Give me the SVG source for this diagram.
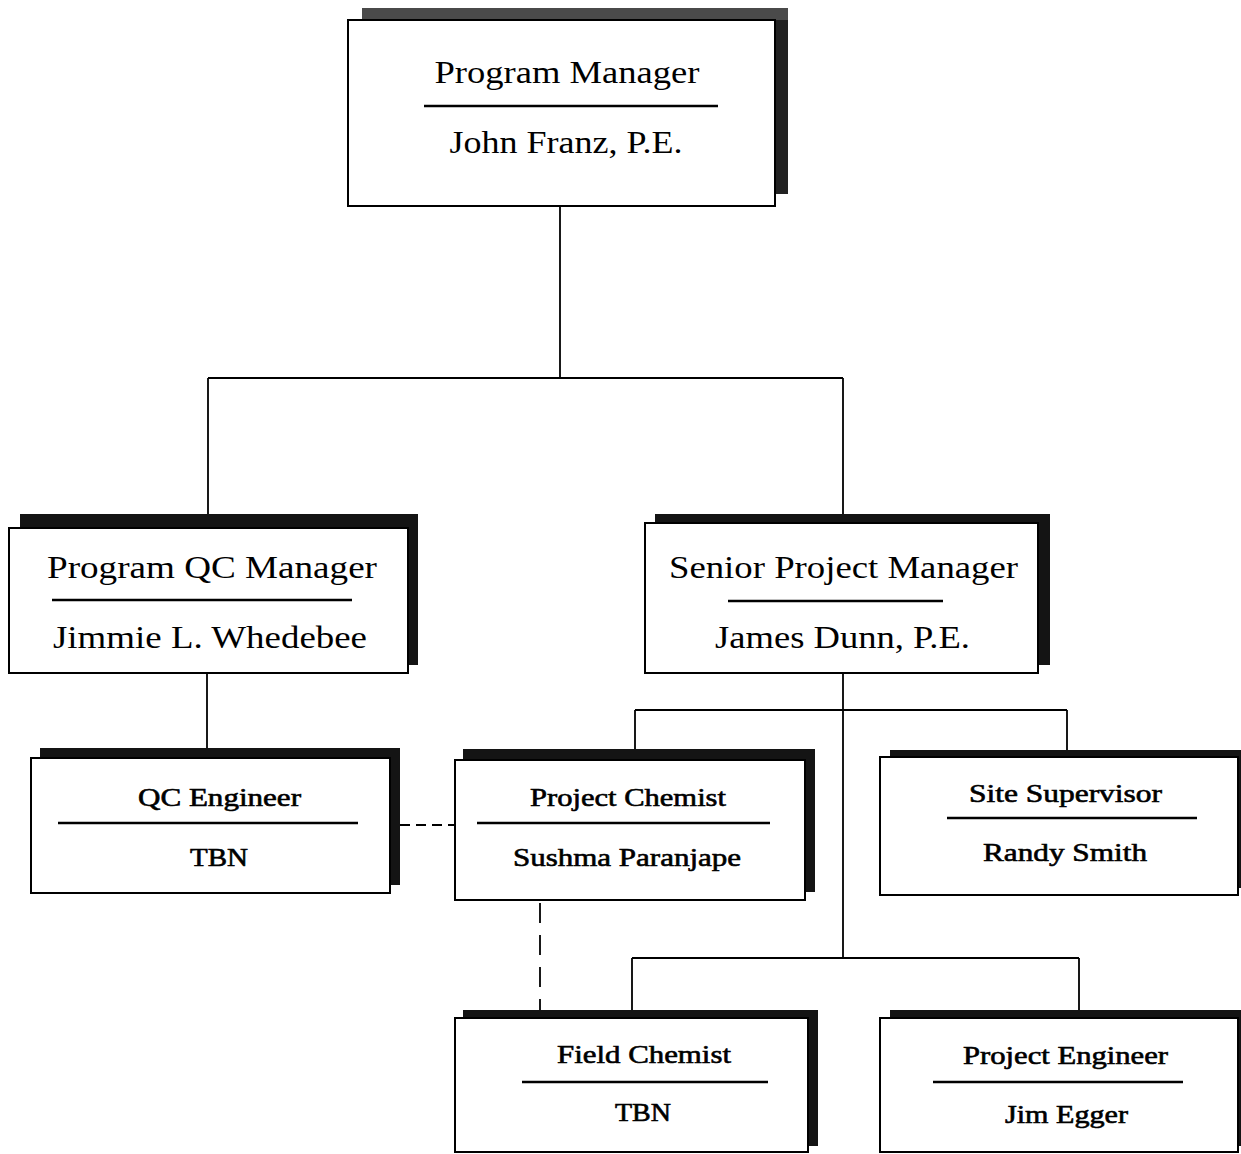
<svg xmlns="http://www.w3.org/2000/svg" width="1241" height="1154" viewBox="0 0 1241 1154">
<style>
.bg{fill:#fff}
.sh{fill:#141414}
.sh0{fill:#4a4a4a}
.sh0r{fill:#222}
.box{fill:#fff;stroke:#000;stroke-width:2}
.div{stroke:#000;stroke-width:2.5}
.con{fill:none;stroke:#000;stroke-width:1.8}
.dash{fill:none;stroke:#000;stroke-width:1.8}
text{font-family:"Liberation Serif","Times New Roman",serif;fill:#000;text-anchor:middle}
.big{font-size:31px}
.sm{font-size:25px;stroke:#000;stroke-width:0.6}
</style>
<rect class="bg" x="0" y="0" width="1241" height="1154"/>
<g id="connectors">
<path class="con" d="M560,206 V378 M208,378 H843 M208,378 V514 M843,378 V514"/>
<path class="con" d="M207,673 V749"/>
<path class="con" d="M843,673 V958 M635,710 H1067 M635,710 V749 M1067,710 V750"/>
<path class="con" d="M632,958 H1079 M632,958 V1010 M1079,958 V1010"/>
<path class="dash" d="M400,825 H455" stroke-dasharray="10 6"/>
<path class="dash" d="M540,903 V1010" stroke-dasharray="20 12"/>
</g>
<g id="program-manager">
<rect class="sh0" x="362" y="8" width="426" height="186"/>
<rect class="sh0r" x="775" y="20" width="13" height="174"/>
<rect class="box" x="348" y="20" width="427" height="186"/>
<line class="div" x1="424" y1="106" x2="718" y2="106"/>
<text class="big" x="567" y="83" textLength="265" lengthAdjust="spacingAndGlyphs">Program Manager</text>
<text class="big" x="566" y="153" textLength="233" lengthAdjust="spacingAndGlyphs">John Franz, P.E.</text>
</g>
<g id="program-qc-manager">
<rect class="sh" x="20" y="514" width="398" height="151"/>
<rect class="box" x="9" y="528" width="399" height="145"/>
<line class="div" x1="52" y1="600" x2="352" y2="600"/>
<text class="big" x="212" y="578" textLength="330" lengthAdjust="spacingAndGlyphs">Program QC Manager</text>
<text class="big" x="210" y="648" textLength="314" lengthAdjust="spacingAndGlyphs">Jimmie L. Whedebee</text>
</g>
<g id="senior-project-manager">
<rect class="sh" x="655" y="514" width="395" height="151"/>
<rect class="box" x="645" y="523" width="393" height="150"/>
<line class="div" x1="728" y1="601" x2="943" y2="601"/>
<text class="big" x="843.5" y="578" textLength="349" lengthAdjust="spacingAndGlyphs">Senior Project Manager</text>
<text class="big" x="842.5" y="648" textLength="255" lengthAdjust="spacingAndGlyphs">James Dunn, P.E.</text>
</g>
<g id="qc-engineer">
<rect class="sh" x="40" y="748" width="360" height="137"/>
<rect class="box" x="31" y="758" width="359" height="135"/>
<line class="div" x1="58" y1="823" x2="358" y2="823"/>
<text class="sm" x="219.5" y="806" textLength="163" lengthAdjust="spacingAndGlyphs">QC Engineer</text>
<text class="sm" x="219" y="866" textLength="58" lengthAdjust="spacingAndGlyphs">TBN</text>
</g>
<g id="project-chemist">
<rect class="sh" x="463" y="749" width="352" height="143"/>
<rect class="box" x="455" y="760" width="350" height="140"/>
<line class="div" x1="477" y1="823" x2="770" y2="823"/>
<text class="sm" x="628" y="806" textLength="196" lengthAdjust="spacingAndGlyphs">Project Chemist</text>
<text class="sm" x="627" y="866" textLength="228" lengthAdjust="spacingAndGlyphs">Sushma Paranjape</text>
</g>
<g id="site-supervisor">
<rect class="sh" x="890" y="750" width="352" height="138"/>
<rect class="box" x="880" y="757" width="358" height="138"/>
<line class="div" x1="947" y1="818" x2="1197" y2="818"/>
<text class="sm" x="1065.5" y="802" textLength="193" lengthAdjust="spacingAndGlyphs">Site Supervisor</text>
<text class="sm" x="1065" y="861" textLength="164" lengthAdjust="spacingAndGlyphs">Randy Smith</text>
</g>
<g id="field-chemist">
<rect class="sh" x="463" y="1010" width="355" height="136"/>
<rect class="box" x="455" y="1018" width="353" height="134"/>
<line class="div" x1="522" y1="1082" x2="768" y2="1082"/>
<text class="sm" x="644" y="1063" textLength="174" lengthAdjust="spacingAndGlyphs">Field Chemist</text>
<text class="sm" x="643" y="1121" textLength="56" lengthAdjust="spacingAndGlyphs">TBN</text>
</g>
<g id="project-engineer">
<rect class="sh" x="890" y="1010" width="352" height="136"/>
<rect class="box" x="880" y="1018" width="358" height="134"/>
<line class="div" x1="933" y1="1082" x2="1183" y2="1082"/>
<text class="sm" x="1065.5" y="1064" textLength="205" lengthAdjust="spacingAndGlyphs">Project Engineer</text>
<text class="sm" x="1066.5" y="1123" textLength="123" lengthAdjust="spacingAndGlyphs">Jim Egger</text>
</g>
</svg>
